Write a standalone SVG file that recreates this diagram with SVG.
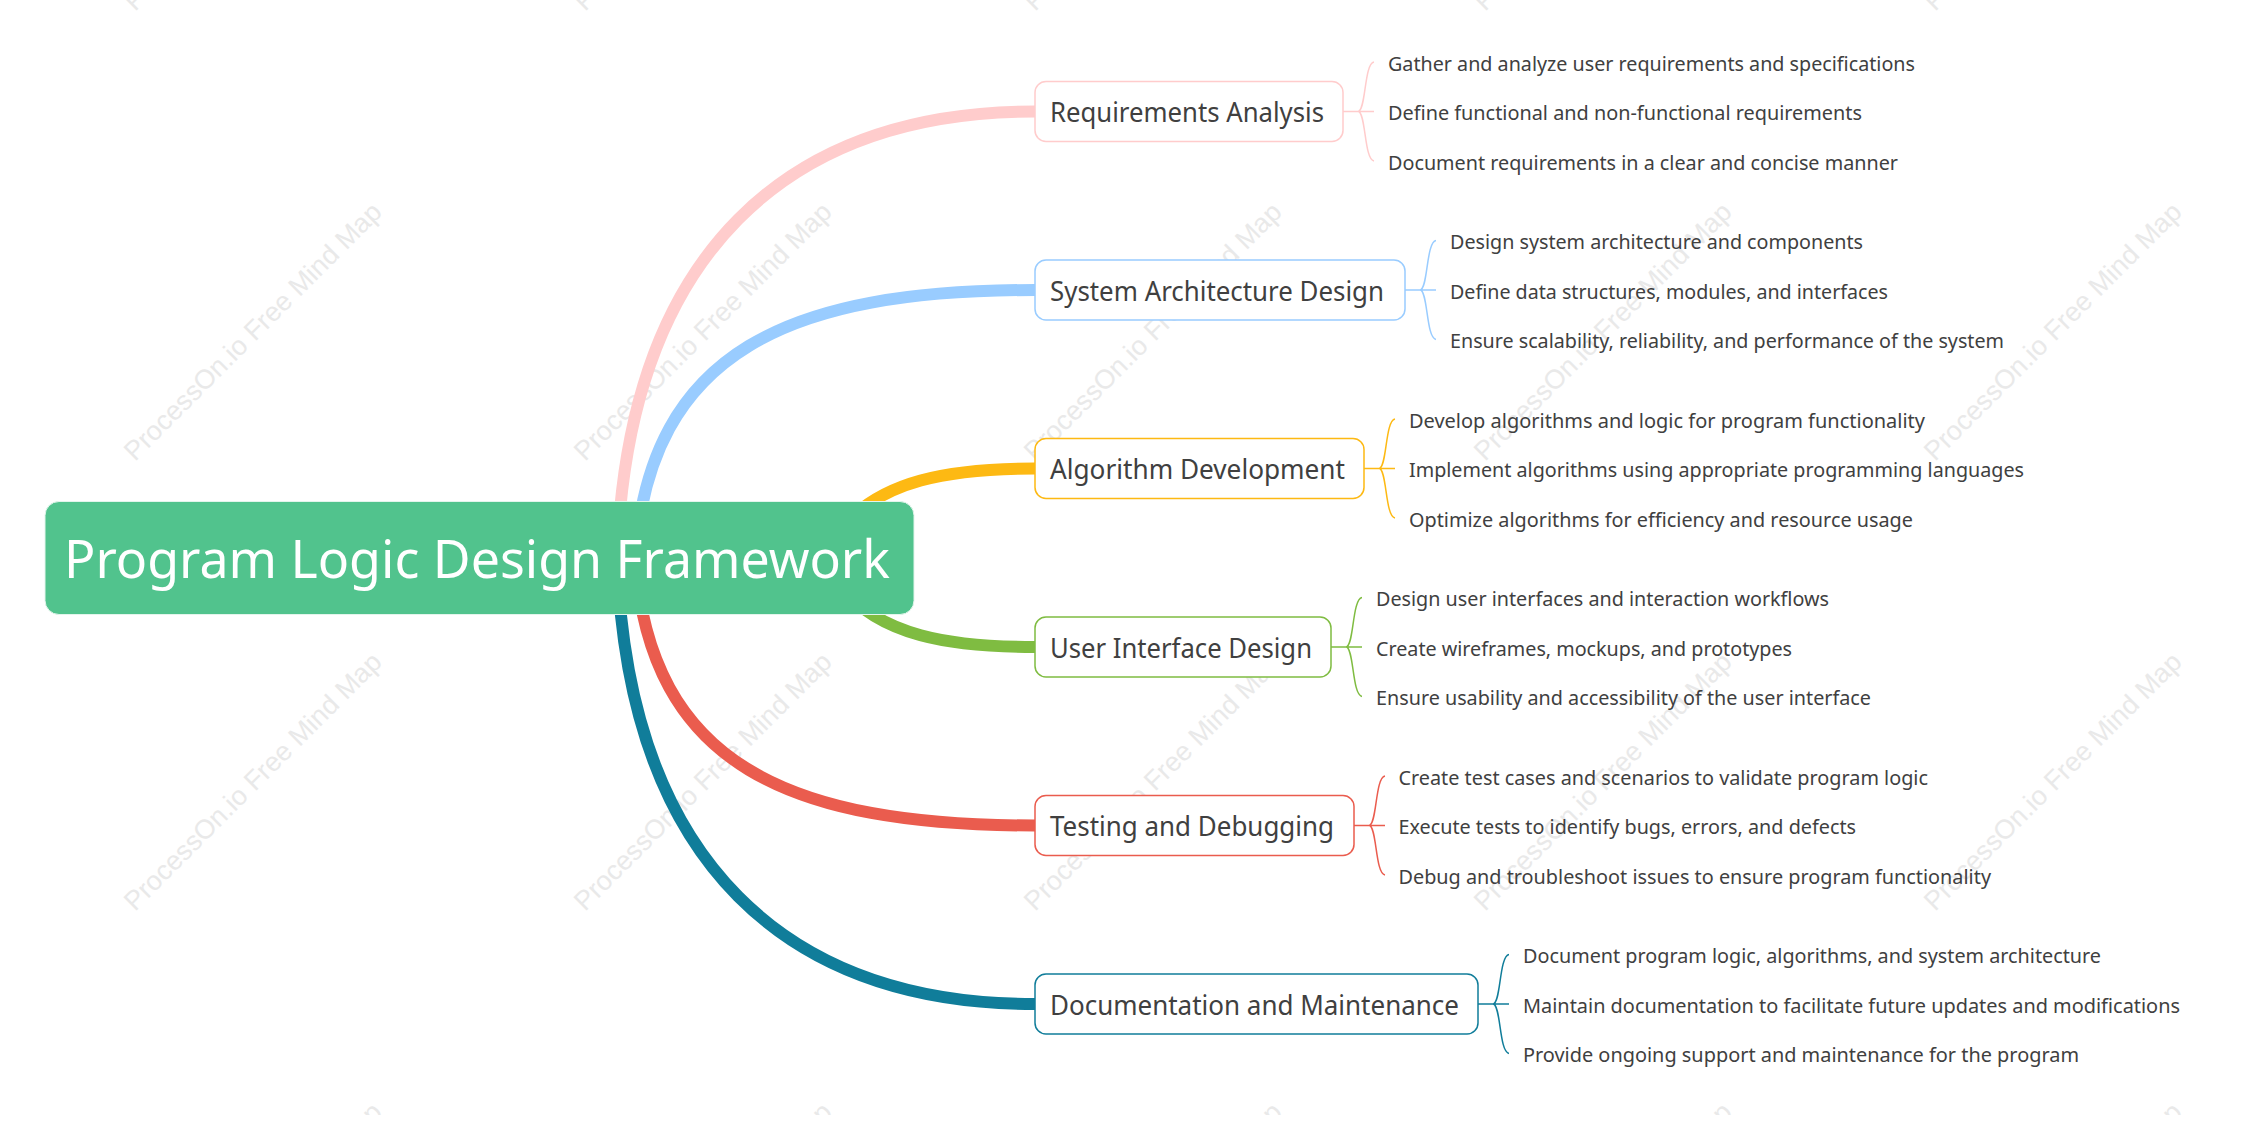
<svg xmlns="http://www.w3.org/2000/svg" width="2244" height="1131" viewBox="0 0 2244 1131">
<defs><clipPath id="wmclip"><rect x="0" y="0" width="2244" height="1115"/></clipPath></defs>
<style>
text{font-family:"Noto Sans","Open Sans","Liberation Sans",sans-serif;fill:#404040}
.wm{font-family:"Liberation Sans",Arial,sans-serif;font-size:27px;fill:#e9e9e9}
.sec{font-size:27px}
.sub{font-size:20px}
.root{font-size:52px;fill:#fff}
.box{fill:#fff;stroke-width:1.5}
.thick{fill:none;stroke-width:12}
.thin{fill:none;stroke-width:1.5}
</style>
<rect width="2244" height="1131" fill="#fff"/>
<g id="watermark" clip-path="url(#wmclip)">
<text class="wm" transform="translate(135,12) rotate(-45)">ProcessOn.io Free Mind Map</text>
<text class="wm" transform="translate(585,12) rotate(-45)">ProcessOn.io Free Mind Map</text>
<text class="wm" transform="translate(1035,12) rotate(-45)">ProcessOn.io Free Mind Map</text>
<text class="wm" transform="translate(1485,12) rotate(-45)">ProcessOn.io Free Mind Map</text>
<text class="wm" transform="translate(1935,12) rotate(-45)">ProcessOn.io Free Mind Map</text>
<text class="wm" transform="translate(135,462) rotate(-45)">ProcessOn.io Free Mind Map</text>
<text class="wm" transform="translate(585,462) rotate(-45)">ProcessOn.io Free Mind Map</text>
<text class="wm" transform="translate(1035,462) rotate(-45)">ProcessOn.io Free Mind Map</text>
<text class="wm" transform="translate(1485,462) rotate(-45)">ProcessOn.io Free Mind Map</text>
<text class="wm" transform="translate(1935,462) rotate(-45)">ProcessOn.io Free Mind Map</text>
<text class="wm" transform="translate(135,912) rotate(-45)">ProcessOn.io Free Mind Map</text>
<text class="wm" transform="translate(585,912) rotate(-45)">ProcessOn.io Free Mind Map</text>
<text class="wm" transform="translate(1035,912) rotate(-45)">ProcessOn.io Free Mind Map</text>
<text class="wm" transform="translate(1485,912) rotate(-45)">ProcessOn.io Free Mind Map</text>
<text class="wm" transform="translate(1935,912) rotate(-45)">ProcessOn.io Free Mind Map</text>
<text class="wm" transform="translate(135,1362) rotate(-45)">ProcessOn.io Free Mind Map</text>
<text class="wm" transform="translate(585,1362) rotate(-45)">ProcessOn.io Free Mind Map</text>
<text class="wm" transform="translate(1035,1362) rotate(-45)">ProcessOn.io Free Mind Map</text>
<text class="wm" transform="translate(1485,1362) rotate(-45)">ProcessOn.io Free Mind Map</text>
<text class="wm" transform="translate(1935,1362) rotate(-45)">ProcessOn.io Free Mind Map</text>
</g>
<g id="connectors">
<path class="thick" stroke="#ffcccc" d="M617 558C628 250 790 111.500 1035 111.500"/>
<path class="thick" stroke="#99ccff" d="M635 558C650 350 790 290 1035 290"/>
<path class="thick" stroke="#fdb913" d="M840 530C880 480 950 468.500 1035 468.500"/>
<path class="thick" stroke="#7fbc41" d="M840 586C880 636 950 647 1035 647"/>
<path class="thick" stroke="#ea5c4e" d="M635 558C650 766 790 825.500 1035 825.500"/>
<path class="thick" stroke="#107d9a" d="M617 558C628 866 790 1004 1035 1004"/>
<g class="thin" stroke="#ffcccc"><path d="M1343 111.500H1374M1358 111.500C1366 111.500 1364 63.500 1374 62M1358 111.500C1366 111.500 1364 159.500 1374 161"/></g>
<g class="thin" stroke="#99ccff"><path d="M1405 290H1436M1420 290C1428 290 1426 242 1436 240.500M1420 290C1428 290 1426 338 1436 339.500"/></g>
<g class="thin" stroke="#fdb913"><path d="M1364 468.500H1395M1379 468.500C1387 468.500 1385 420.500 1395 419M1379 468.500C1387 468.500 1385 516.500 1395 518"/></g>
<g class="thin" stroke="#7fbc41"><path d="M1331 647H1362M1346 647C1354 647 1352 599 1362 597.500M1346 647C1354 647 1352 695 1362 696.500"/></g>
<g class="thin" stroke="#ea5c4e"><path d="M1354 825.500H1385M1369 825.500C1377 825.500 1375 777.500 1385 776M1369 825.500C1377 825.500 1375 873.500 1385 875"/></g>
<g class="thin" stroke="#107d9a"><path d="M1478 1004H1509M1493 1004C1501 1004 1499 956 1509 954.500M1493 1004C1501 1004 1499 1052 1509 1053.500"/></g>
</g>
<g id="root"><rect x="45" y="501.500" width="869" height="113" rx="14" fill="#51c38d" stroke="#e3f5ec" stroke-width="1"/><text class="root" x="64" y="577.500" textLength="826" lengthAdjust="spacingAndGlyphs">Program Logic Design Framework</text></g>
<g id="n1"><rect class="box" x="1035" y="81.500" width="308" height="60" rx="11" stroke="#ffcccc"/><text class="sec" x="1050" y="122.200" textLength="274" lengthAdjust="spacingAndGlyphs">Requirements Analysis</text>
<text class="sub" x="1388" y="70.500" textLength="527" lengthAdjust="spacingAndGlyphs">Gather and analyze user requirements and specifications</text>
<text class="sub" x="1388" y="120.200" textLength="474" lengthAdjust="spacingAndGlyphs">Define functional and non-functional requirements</text>
<text class="sub" x="1388" y="169.700" textLength="510" lengthAdjust="spacingAndGlyphs">Document requirements in a clear and concise manner</text></g>
<g id="n2"><rect class="box" x="1035" y="260" width="370" height="60" rx="11" stroke="#99ccff"/><text class="sec" x="1050" y="300.700" textLength="334" lengthAdjust="spacingAndGlyphs">System Architecture Design</text>
<text class="sub" x="1450" y="249" textLength="413" lengthAdjust="spacingAndGlyphs">Design system architecture and components</text>
<text class="sub" x="1450" y="298.700" textLength="438" lengthAdjust="spacingAndGlyphs">Define data structures, modules, and interfaces</text>
<text class="sub" x="1450" y="348.200" textLength="554" lengthAdjust="spacingAndGlyphs">Ensure scalability, reliability, and performance of the system</text></g>
<g id="n3"><rect class="box" x="1035" y="438.500" width="329" height="60" rx="11" stroke="#fdb913"/><text class="sec" x="1050" y="479.200" textLength="295" lengthAdjust="spacingAndGlyphs">Algorithm Development</text>
<text class="sub" x="1409" y="427.500" textLength="516" lengthAdjust="spacingAndGlyphs">Develop algorithms and logic for program functionality</text>
<text class="sub" x="1409" y="477.200" textLength="615" lengthAdjust="spacingAndGlyphs">Implement algorithms using appropriate programming languages</text>
<text class="sub" x="1409" y="526.700" textLength="504" lengthAdjust="spacingAndGlyphs">Optimize algorithms for efficiency and resource usage</text></g>
<g id="n4"><rect class="box" x="1035" y="617" width="296" height="60" rx="11" stroke="#7fbc41"/><text class="sec" x="1050" y="657.700" textLength="262" lengthAdjust="spacingAndGlyphs">User Interface Design</text>
<text class="sub" x="1376" y="606" textLength="453" lengthAdjust="spacingAndGlyphs">Design user interfaces and interaction workflows</text>
<text class="sub" x="1376" y="655.700" textLength="416" lengthAdjust="spacingAndGlyphs">Create wireframes, mockups, and prototypes</text>
<text class="sub" x="1376" y="705.200" textLength="495" lengthAdjust="spacingAndGlyphs">Ensure usability and accessibility of the user interface</text></g>
<g id="n5"><rect class="box" x="1035" y="795.500" width="319" height="60" rx="11" stroke="#ea5c4e"/><text class="sec" x="1050" y="836.200" textLength="284" lengthAdjust="spacingAndGlyphs">Testing and Debugging</text>
<text class="sub" x="1398.500" y="784.500" textLength="529.500" lengthAdjust="spacingAndGlyphs">Create test cases and scenarios to validate program logic</text>
<text class="sub" x="1398.500" y="834.200" textLength="457.500" lengthAdjust="spacingAndGlyphs">Execute tests to identify bugs, errors, and defects</text>
<text class="sub" x="1398.500" y="883.700" textLength="592.500" lengthAdjust="spacingAndGlyphs">Debug and troubleshoot issues to ensure program functionality</text></g>
<g id="n6"><rect class="box" x="1035" y="974" width="443" height="60" rx="11" stroke="#107d9a"/><text class="sec" x="1050" y="1014.700" textLength="409" lengthAdjust="spacingAndGlyphs">Documentation and Maintenance</text>
<text class="sub" x="1523" y="963" textLength="578" lengthAdjust="spacingAndGlyphs">Document program logic, algorithms, and system architecture</text>
<text class="sub" x="1523" y="1012.700" textLength="657" lengthAdjust="spacingAndGlyphs">Maintain documentation to facilitate future updates and modifications</text>
<text class="sub" x="1523" y="1062.200" textLength="556" lengthAdjust="spacingAndGlyphs">Provide ongoing support and maintenance for the program</text></g>
</svg>
